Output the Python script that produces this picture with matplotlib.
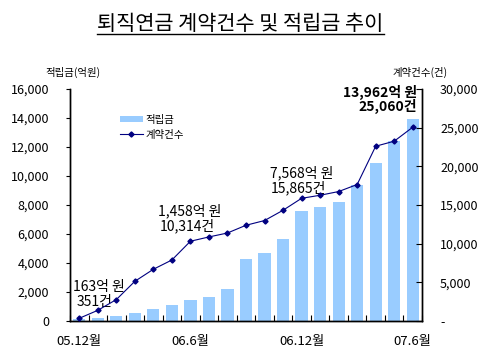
import numpy as np
import matplotlib
matplotlib.use('Agg')
import matplotlib.pyplot as plt
from matplotlib.ticker import FuncFormatter, FixedLocator

plt.rcParams['font.family'] = ['Noto Sans CJK KR', 'DejaVu Sans']

# monthly data, 05.12 ~ 07.6
months = ['05.12', '06.1', '06.2', '06.3', '06.4', '06.5', '06.6', '06.7', '06.8',
          '06.9', '06.10', '06.11', '06.12', '07.1', '07.2', '07.3', '07.4',
          '07.5', '07.6']
reserve = [163, 200, 350, 550, 830, 1100, 1458, 1650, 2200, 4280, 4700,
           5650, 7568, 7860, 8200, 9400, 10900, 12400, 13962]
contracts = [351, 1380, 2770, 5130, 6690, 7890, 10314, 10870, 11380, 12380,
             12990, 14320, 15865, 16260, 16740, 17650, 22600, 23250, 25060]
xlabels = {0: '05.12월', 6: '06.6월', 12: '06.12월', 18: '07.6월'}

x = np.arange(len(months))

fig = plt.figure(figsize=(4.81, 3.59), dpi=100)
ax1 = fig.add_axes([70/481, 38/359, 352/481, 232/359])
ax2 = ax1.twinx()

bars = ax1.bar(x, reserve, width=0.66, color='#99CCFF', label='적립금', zorder=2)
line, = ax2.plot(x, contracts, color='#000080', lw=0.8, marker='D', ms=2.6,
                 label='계약건수', zorder=3)

ax1.set_xlim(-0.5, len(months) - 0.5)
ax1.set_ylim(0, 16000)
ax2.set_ylim(0, 30000)
ax1.set_yticks(np.arange(0, 16001, 2000))
ax2.set_yticks(np.arange(0, 30001, 5000))
ax1.yaxis.set_major_formatter(FuncFormatter(lambda v, p: f'{v:,.0f}'))
ax2.yaxis.set_major_formatter(FuncFormatter(lambda v, p: '-' if v == 0 else f'{v:,.0f}'))

ax1.set_xticks(list(xlabels.keys()))
ax1.set_xticklabels(list(xlabels.values()))
ax1.xaxis.set_minor_locator(FixedLocator(np.arange(-0.5, len(months), 1)))
ax1.tick_params(axis='x', which='major', length=0, pad=10, labelsize=9.5)
ax1.tick_params(axis='x', which='minor', direction='in', length=4, width=0.8)
ax1.tick_params(axis='y', direction='out', length=3, width=0.8, pad=12, labelsize=9)
ax2.tick_params(axis='y', direction='in', length=4, width=0.8, pad=13, labelsize=9)

for a in (ax1, ax2):
    a.spines['top'].set_visible(False)
    for s in ('left', 'right', 'bottom'):
        a.spines[s].set_linewidth(1.0)

# annotations
ax1.text(1.04, 2350, '163억 원', ha='center', va='center', fontsize=10)
ax1.text(0.8, 1310, '351건', ha='center', va='center', fontsize=10)
ax1.text(5.98, 7565, '1,458억 원', ha='center', va='center', fontsize=10)
ax1.text(5.83, 6530, '10,314건', ha='center', va='center', fontsize=10)
ax1.text(11.98, 10200, '7,568억 원', ha='center', va='center', fontsize=10)
ax1.text(11.82, 9200, '15,865건', ha='center', va='center', fontsize=10)
ax1.text(18.25, 15790, '13,962억 원', ha='right', va='center', fontsize=10, fontweight='bold')
ax1.text(18.25, 14810, '25,060건', ha='right', va='center', fontsize=10, fontweight='bold')

fig.text(73/481, 1 - 72/359, '적립금(억원)', ha='center', va='center', fontsize=7.5)
fig.text(420/481, 1 - 72/359, '계약건수(건)', ha='center', va='center', fontsize=7.5)

title = fig.text(0.5, 1 - 24/359, '퇴직연금 계약건수 및 적립금 추이', ha='center', va='center',
                 fontsize=15)
fig.canvas.draw()
bb = title.get_window_extent()
fig.add_artist(plt.Line2D([bb.x0 / fig.bbox.width, bb.x1 / fig.bbox.width],
                          [(bb.y0 + 1) / fig.bbox.height] * 2, color='black', lw=1.0))

ax2.legend([bars, line], ['적립금', '계약건수'], loc='upper left',
           bbox_to_anchor=(0.115, 0.93), frameon=False, fontsize=7.5,
           handlelength=2.2, handleheight=0.6, handletextpad=0.3, labelspacing=0.5)

fig.savefig('out.png', dpi=100)
